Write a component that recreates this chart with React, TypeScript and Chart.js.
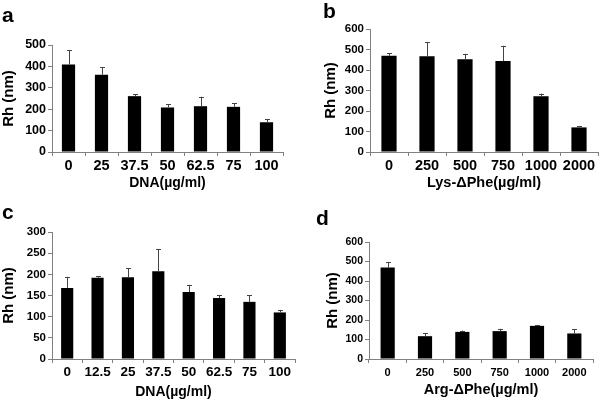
import React, { useEffect, useRef } from "react";
import { Chart, registerables } from "chart.js";

Chart.register(...registerables);

const FONT = "'Liberation Sans', Arial, Helvetica, sans-serif";

// Panel a
const aLabels = ["0", "25", "37.5", "50", "62.5", "75", "100"];
const aValues = [409, 361, 261, 208, 214, 211, 139];
const aErrors = [66, 34, 8, 14, 44, 16, 13];
// Panel b
const bLabels = ["0", "250", "500", "750", "1000", "2000"];
const bValues = [469, 467, 452, 444, 272, 120];
const bErrors = [13, 69, 27, 74, 13, 6];
// Panel c
const cLabels = ["0", "12.5", "25", "37.5", "50", "62.5", "75", "100"];
const cValues = [168, 192, 193, 207, 158, 144, 135, 110];
const cErrors = [26, 4, 21, 53, 17, 7, 16, 6];
// Panel d
const dLabels = ["0", "250", "500", "750", "1000", "2000"];
const dValues = [469, 117, 139, 143, 170, 131];
const dErrors = [26, 16, 7, 12, 5, 22];

const yTitle = "Rh (nm)";

type PanelCfg = {
  letter: string;
  labels: string[];
  values: number[];
  errors: number[];
  yMax: number;
  yStep: number;
  xTitle: string;
  left: number;
  top: number;
  width: number;
  height: number;
  padRight: number;
  padTop: number;
  yAxisW: number;
  xAxisH: number;
  yTitlePad: number;
  xTitlePadBottom: number;
  yTickSize: number;
  xTickSize: number;
  yTitleSize: number;
  xTitleSize: number;
  letterX: number;
  letterY: number;
  barPct: number;
  xTickPad: number;
};

const panels: PanelCfg[] = [
  {
    letter: "a", labels: aLabels, values: aValues, errors: aErrors, yMax: 500, yStep: 100,
    xTitle: "DNA(µg/ml)", left: 0, top: 0, width: 300, height: 200,
    padRight: 17, padTop: 45, yAxisW: 52, xAxisH: 48, yTitlePad: 0, xTitlePadBottom: 8,
    yTickSize: 12.5, xTickSize: 14.5, yTitleSize: 15, xTitleSize: 14, letterX: 2, letterY: 22, barPct: 0.4,
    xTickPad: 1,
  },
  {
    letter: "b", labels: bLabels, values: bValues, errors: bErrors, yMax: 600, yStep: 100,
    xTitle: "Lys-\u0394Phe(µg/ml)", left: 300, top: 0, width: 300, height: 200,
    padRight: 2, padTop: 29, yAxisW: 70, xAxisH: 48, yTitlePad: 22, xTitlePadBottom: 8,
    yTickSize: 11.5, xTickSize: 14.5, yTitleSize: 15, xTitleSize: 14.5, letterX: 23, letterY: 18, barPct: 0.4,
    xTickPad: 1,
  },
  {
    letter: "c", labels: cLabels, values: cValues, errors: cErrors, yMax: 300, yStep: 50,
    xTitle: "DNA(µg/ml)", left: 0, top: 200, width: 300, height: 201,
    padRight: 5, padTop: 32, yAxisW: 52, xAxisH: 42, yTitlePad: 0, xTitlePadBottom: 0,
    yTickSize: 11.5, xTickSize: 13.5, yTitleSize: 15, xTitleSize: 14, letterX: 2, letterY: 19, barPct: 0.4,
    xTickPad: 1,
  },
  {
    letter: "d", labels: dLabels, values: dValues, errors: dErrors, yMax: 600, yStep: 100,
    xTitle: "Arg-\u0394Phe(µg/ml)", left: 300, top: 200, width: 300, height: 201,
    padRight: 7, padTop: 42, yAxisW: 69, xAxisH: 42, yTitlePad: 24, xTitlePadBottom: 2,
    yTickSize: 10.5, xTickSize: 11, yTitleSize: 15, xTitleSize: 14.5, letterX: 16, letterY: 25, barPct: 0.38,
    xTickPad: 3,
  },
];

const errorBarPlugin = {
  id: "errorBars",
  afterDatasetsDraw(chart: any) {
    const ctx = chart.ctx;
    const yScale = chart.scales.y;
    chart.data.datasets.forEach((ds: any, di: number) => {
      const meta = chart.getDatasetMeta(di);
      const errs: number[] = ds.errors || [];
      meta.data.forEach((el: any, i: number) => {
        const v = ds.data[i];
        const e = errs[i] || 0;
        const yTop = yScale.getPixelForValue(v + e);
        const x = Math.round(el.x) + 0.5;
        ctx.save();
        ctx.strokeStyle = "#444";
        ctx.lineWidth = 1;
        ctx.beginPath();
        ctx.moveTo(x, el.y);
        ctx.lineTo(x, yTop);
        ctx.moveTo(x - 2.5, Math.round(yTop) + 0.5);
        ctx.lineTo(x + 2.5, Math.round(yTop) + 0.5);
        ctx.stroke();
        ctx.restore();
      });
    });
  },
};

const letterPlugin = {
  id: "panelLetter",
  afterDraw(chart: any, _args: any, opts: any) {
    if (!opts || !opts.text) return;
    const ctx = chart.ctx;
    ctx.save();
    ctx.fillStyle = "#000";
    ctx.font = `bold ${opts.size}px ${FONT}`;
    ctx.textAlign = "left";
    ctx.textBaseline = "alphabetic";
    ctx.fillText(opts.text, opts.x, opts.y);
    ctx.restore();
  },
};

function Panel({ cfg }: { cfg: PanelCfg }) {
  const ref = useRef<HTMLCanvasElement | null>(null);
  useEffect(() => {
    if (!ref.current) return;
    const axisColor = "#808080";
    const chart = new Chart(ref.current, {
      type: "bar",
      data: {
        labels: cfg.labels,
        datasets: [
          {
            data: cfg.values,
            errors: cfg.errors,
            backgroundColor: "#000",
            borderWidth: 0,
            barPercentage: cfg.barPct,
            categoryPercentage: 1,
          } as any,
        ],
      },
      options: {
        responsive: false,
        animation: false,
        devicePixelRatio: 1,
        layout: { padding: { left: 0, right: cfg.padRight, top: cfg.padTop, bottom: 0 } },
        plugins: {
          legend: { display: false },
          tooltip: { enabled: false },
          title: { display: false },
          panelLetter: { text: cfg.letter, x: cfg.letterX, y: cfg.letterY, size: 21 },
        } as any,
        scales: {
          x: {
            type: "category",
            offset: true,
            grid: {
              display: true,
              drawOnChartArea: false,
              drawTicks: true,
              tickLength: 4,
              color: axisColor,
              offset: true,
            },
            border: { display: true, color: axisColor, width: 1 },
            ticks: {
              color: "#000",
              font: { family: FONT, size: cfg.xTickSize, weight: "bold" },
              padding: cfg.xTickPad,
              maxRotation: 0,
              autoSkip: false,
            },
            title: {
              display: true,
              text: cfg.xTitle,
              color: "#000",
              font: { family: FONT, size: cfg.xTitleSize, weight: "bold" },
              padding: { top: 0, bottom: cfg.xTitlePadBottom },
            },
            afterFit: (s: any) => {
              s.height = cfg.xAxisH;
            },
          },
          y: {
            type: "linear",
            min: 0,
            max: cfg.yMax,
            grid: {
              display: true,
              drawOnChartArea: false,
              drawTicks: true,
              tickLength: 4,
              color: axisColor,
            },
            border: { display: true, color: axisColor, width: 1 },
            ticks: {
              stepSize: cfg.yStep,
              color: "#000",
              font: { family: FONT, size: cfg.yTickSize, weight: "bold" },
              padding: 2,
            },
            title: {
              display: true,
              text: yTitle,
              color: "#000",
              font: { family: FONT, size: cfg.yTitleSize, weight: "bold" },
              padding: { top: cfg.yTitlePad, bottom: 0 },
            },
            afterFit: (s: any) => {
              s.width = cfg.yAxisW;
            },
          },
        },
      },
      plugins: [errorBarPlugin, letterPlugin],
    });
    return () => chart.destroy();
  }, [cfg]);
  return (
    <canvas
      ref={ref}
      width={cfg.width}
      height={cfg.height}
      style={{
        position: "absolute",
        left: cfg.left,
        top: cfg.top,
        width: cfg.width,
        height: cfg.height,
        display: "block",
      }}
    />
  );
}

export default function App() {
  return (
    <div
      style={{
        position: "absolute",
        left: 0,
        top: 0,
        width: 600,
        height: 401,
        background: "#fff",
        overflow: "hidden",
      }}
    >
      {panels.map((p) => (
        <Panel key={p.letter} cfg={p} />
      ))}
    </div>
  );
}
